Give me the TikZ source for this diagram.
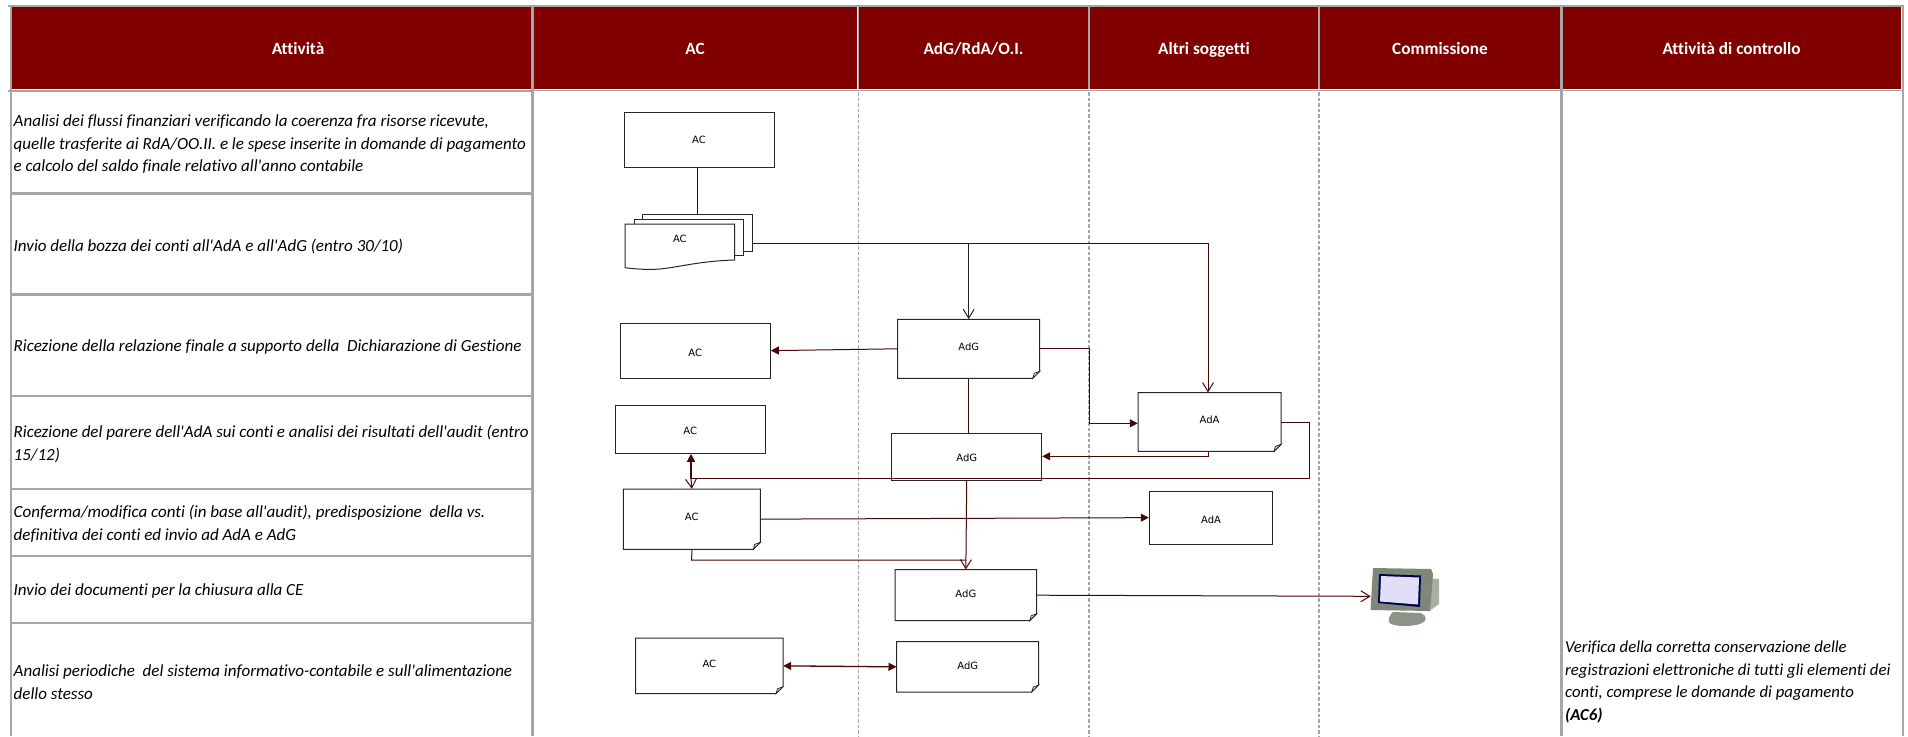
\documentclass[tikz,border=0pt]{standalone}
\usepackage{fontspec}
\newfontfamily\carl[Ligatures=NoCommon]{Carlito}
\newfontfamily\boxfont{DejaVu Sans}
\usetikzlibrary{arrows.meta,calc}
\definecolor{hdrred}{HTML}{800000}
\definecolor{gridgray}{HTML}{A6A6A6}
\definecolor{flow}{HTML}{4A0505}
\definecolor{boxline}{HTML}{262626}
\definecolor{monframe}{HTML}{7E8878}
\definecolor{monback}{HTML}{A8AFA4}
\definecolor{monfoot}{HTML}{8A9488}
\definecolor{monscreen}{HTML}{E2DEF7}
\tikzset{
  hdr/.style={fill=hdrred,text=white,inner sep=0pt,anchor=center,font=\carl\fontsize{17.2}{18}\selectfont\bfseries},
  act/.style={anchor=west,inner sep=0pt,align=left,font=\carl\fontsize{17}{22.5}\selectfont\itshape},
  acttwo/.style={anchor=west,inner sep=0pt,align=left,font=\carl\fontsize{16.75}{22.7}\selectfont\itshape},
  flowbox/.style={draw=boxline,line width=1pt,fill=white,inner sep=0pt,font=\boxfont\fontsize{10}{12}\selectfont},
  hidbox/.style={inner sep=0pt,font=\boxfont\fontsize{10}{12}\selectfont},
  conn/.style={draw=flow,line width=1pt},
  openarr/.style={-{Straight Barb[length=9pt,width=11pt,line width=1pt]}},
  fillarr/.style={-{Triangle[length=8pt,width=8pt]}},
  gridline/.style={draw=gridgray,line width=2.8pt},
  grid2/.style={draw=gridgray,line width=1.6pt},
  lane/.style={draw=gridgray,line width=1.2pt,dash pattern=on 3.5pt off 2pt}
}
\newcommand{\lbl}[2]{\raisebox{\dimexpr-3.7pt-(#1pt)\relax}[0pt][0pt]{#2}}
\newcommand{\hlbl}[1]{\raisebox{-6pt}[0pt][0pt]{#1}}
\newcommand{\plainbox}[7]{%
  \node[flowbox,minimum width=#4pt-#2pt,minimum height=#5pt-#3pt] (#1) at ({(#2+#4)/2},{(#3+#5)/2}) {\lbl{#6}{#7}};}
\newcommand{\foldbox}[7]{%
  \node[hidbox,minimum width=#4pt-#2pt,minimum height=#5pt-#3pt] (#1) at ({(#2+#4)/2},{(#3+#5)/2}) {\lbl{#6}{#7}};
  \draw[draw=boxline,line width=1pt,fill=none] (#2,#3) -- (#4,#3) -- (#4,#5-7) -- (#4-7,#5) -- (#2,#5) -- cycle;
  \draw[draw=boxline,line width=0.7pt,fill=gray!35] (#4,#5-7) -- (#4-5.5,#5-5) -- (#4-7,#5) -- cycle;}
\begin{document}
\begin{tikzpicture}[x=1pt,y=-1pt]
\useasboundingbox (0,0) rectangle (1908,736);
% header
\node[hdr,minimum width=520pt,minimum height=82pt] (h1) at (272,48) {\hspace*{52pt}\hlbl{Attivit\`a}};
\node[hdr,minimum width=324pt,minimum height=82pt] (h2) at (695,48) {\hlbl{AC}};
\node[hdr,minimum width=229pt,minimum height=82pt] (h3) at (973.5,48) {\hlbl{AdG/RdA/O.I.}};
\node[hdr,minimum width=228pt,minimum height=82pt] (h4) at (1204,48) {\hlbl{Altri soggetti}};
\node[hdr,minimum width=240pt,minimum height=82pt] (h5) at (1440,48) {\hlbl{Commissione}};
\node[hdr,minimum width=339pt,minimum height=82pt] (h6) at (1731.5,48) {\hlbl{Attivit\`a di controllo}};
% grid
\draw[gridline] (8,6) -- (1904,6);
\draw[gridline] (11,5) -- (11,736);
\draw[gridline] (1903,5) -- (1903,736);
\draw[gridline] (8,91) -- (532,91);
\draw[grid2] (534,90.5) -- (1904,90.5);
\draw[gridline] (532.5,5) -- (532.5,736);
\draw[gridline] (1561.5,5) -- (1561.5,736);
\foreach \yy in {193.5,294.5,396,489,556,623} \draw[gridline] (11,\yy) -- (532,\yy);
\foreach \xx in {858.5,1089,1319} {
  \draw[grid2] (\xx,7) -- (\xx,89);
  \draw[lane] (\xx,92) -- (\xx,736);
}
% activity texts
\node[act] (t1) at (13.5,144.5) {Analisi dei flussi finanziari verificando la coerenza fra risorse ricevute,\\quelle trasferite ai RdA/OO.II. e le spese inserite in domande di pagamento\\e calcolo del saldo finale relativo all'anno contabile};
\node[act] (t2) at (13.5,246) {Invio della bozza dei conti all'AdA e all'AdG (entro 30/10)};
\node[act] (t3) at (13.5,346.7) {Ricezione della relazione finale a supporto della\ \ Dichiarazione di Gestione};
\node[act] (t4) at (13.5,444) {Ricezione del parere dell'AdA sui conti e analisi dei risultati dell'audit (entro\\15/12)};
\node[act] (t5) at (13.5,524) {Conferma/modifica conti (in base all'audit), predisposizione\ \ della vs.\\definitiva dei conti ed invio ad AdA e AdG};
\node[act] (t6) at (13.5,591) {Invio dei documenti per la chiusura alla CE};
\node[act] (t7) at (13.5,682) {Analisi periodiche\ \ del sistema informativo-contabile e sull'alimentazione\\dello stesso};
\node[acttwo] (t8) at (1565,682) {Verifica della corretta conservazione delle\\registrazioni elettroniche di tutti gli elementi dei\\conti, comprese le domande di pagamento\\\textbf{(AC6)}};
% boxes
\plainbox{ac1}{624}{112}{774}{167}{0}{AC}
\node[flowbox,minimum width=110.4pt,minimum height=37pt] (doc3) at (697.5,233.2) {};
\node[flowbox,minimum width=109pt,minimum height=36.7pt] (doc2) at (688.5,237.6) {};
\fill[white] (625,224) -- (734.7,224) -- (734.7,260) .. controls (700,261) and (680,267) .. (660,269) .. controls (648,270) and (635,269) .. (625,267.7) -- cycle;
\node[hidbox,minimum width=109.7pt,minimum height=43pt] (doc1) at (679.85,245.5) {\lbl{-7}{AC}};
\draw[draw=boxline,line width=1pt,fill=none] (625,224) -- (734.7,224) -- (734.7,260) .. controls (700,261) and (680,267) .. (660,269) .. controls (648,270) and (635,269) .. (625,267.7) -- cycle;
\plainbox{ac3}{620}{323}{770.3}{378.3}{2.5}{AC}
\plainbox{ac4}{615.3}{405}{765.3}{453.3}{2}{AC}
\foldbox{ac5}{623.3}{489}{760.3}{549.3}{-2}{AC}
\foldbox{ac6}{635.7}{638}{783}{693.7}{-2}{AC}
\foldbox{adg1}{897.7}{319.3}{1039.7}{378.3}{-2}{AdG}
\plainbox{adg2}{891.7}{433}{1041.7}{480}{1.5}{AdG}
\foldbox{adg3}{895}{569.7}{1036.7}{620.7}{-1}{AdG}
\foldbox{adg4}{896.7}{641.7}{1038.7}{692}{-1}{AdG}
\foldbox{ada1}{1138}{392.7}{1281}{451.3}{-2}{AdA}
\plainbox{ada2}{1149.3}{491}{1272.7}{544.3}{2.5}{AdA}
% monitor
\coordinate (mon) at (1370.7,596.3);
\fill[monfoot] (1389,622) .. controls (1390,627) and (1418,628) .. (1425,621) .. controls (1427,617) and (1424,614) .. (1420,613) -- (1393,612) .. controls (1390,615) and (1388,618) .. (1389,622) -- cycle;
\fill[monback] (1428,578) -- (1439,579) -- (1439,604) -- (1428,612) -- cycle;
\fill[monframe] (1373,568) -- (1431,569) -- (1433,574) -- (1430,611) -- (1370.5,610) -- cycle;
\fill[black!70!blue] (1379,574) -- (1421,575.5) -- (1420,607) -- (1378,603) -- cycle;
\fill[monscreen] (1381,576) -- (1419,577.5) -- (1418,604.5) -- (1380,601.5) -- cycle;
% connectors
\coordinate (a1) at (968.7,243.3);
\coordinate (a2) at (1208,243.3);
\coordinate (a3) at (1089.3,349.3);
\coordinate (a4) at (1089.3,423.3);
\coordinate (a5) at (1208,456.3);
\coordinate (a6) at (1309.3,422.3);
\coordinate (a7) at (1309.3,478.7);
\coordinate (a8) at (691,478.7);
\coordinate (a9) at (691.7,560);
\coordinate (a10) at (966,560);
\coordinate (a11) at (752.7,243.3);
\draw[conn] (ac1.south -| doc3.north) -- (doc3.north);
\draw[conn] (a11) -- (a2);
\draw[conn,openarr] (a2) -- (ada1.north -| a2);
\draw[draw=boxline,line width=1pt,openarr] (a1) -- (adg1.north);
\draw[conn,fillarr] (adg1.west) -- (ac3.east);
\draw[conn] (adg1.south) -- (adg1.south |- adg2.north);
\draw[conn,fillarr] (adg1.east) -- (adg1.east -| a3) -- (a4) -- (ada1.west |- a4);
\draw[conn,fillarr] (ada1.south -| a5) -- (a5) -- (adg2.east |- a5);
\draw[conn] (ada1.east |- a6) -- (a6) -- (a7) -- (a8);
\draw[conn,line width=1.4pt,fillarr] (a8) -- (a8 |- ac4.south);
\draw[conn,openarr] (a8) -- (ac5.north);
\draw[conn,openarr] (adg2.south) -- (adg3.north);
\draw[conn,fillarr] (ac5.east) -- (ada2.west);
\draw[conn] (ac5.south) -- (a9) -- (a10);
\draw[conn,openarr] (adg3.east) -- (mon);
\draw[conn,line width=1.3pt,{Triangle[length=8pt,width=8pt]}-{Triangle[length=8pt,width=8pt]}] (ac6.east) -- (adg4.west);
\end{tikzpicture}
\end{document}
